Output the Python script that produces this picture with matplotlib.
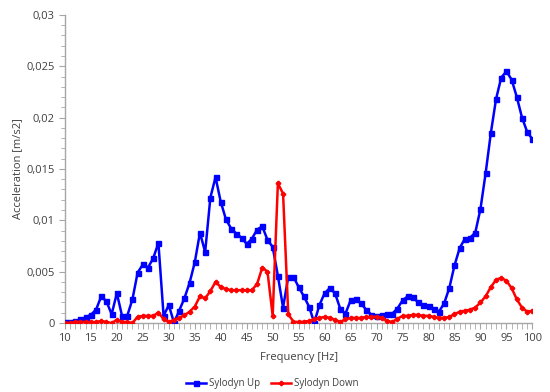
import matplotlib
matplotlib.use("Agg")
import matplotlib.pyplot as plt
from matplotlib.ticker import MultipleLocator, FuncFormatter

freq = list(range(10, 101))

sylodyn_up = [
    0.00013, 0.00013, 0.0002, 0.00035, 0.00055, 0.0008, 0.0013, 0.0026, 0.0021, 0.00085,  # 10-19
    0.0029, 0.0007, 0.0007, 0.0023, 0.0049, 0.0057, 0.0054, 0.0063, 0.0078, 0.0007,     # 20-29
    0.00175, 0.00003, 0.0012, 0.0024, 0.0039, 0.0059, 0.0088, 0.0069, 0.0122, 0.0142,   # 30-39
    0.0118, 0.0101, 0.0092, 0.0087, 0.0083, 0.0077, 0.0082, 0.0091, 0.0094, 0.0081,     # 40-49
    0.0074, 0.0046, 0.0015, 0.0045, 0.0045, 0.0035, 0.0026, 0.0016, 0.00003, 0.00175,   # 50-59
    0.0029, 0.0034, 0.0029, 0.0014, 0.0009, 0.0022, 0.0023, 0.0019, 0.0013, 0.0008,     # 60-69
    0.0007, 0.0008, 0.00085, 0.0009, 0.0014, 0.0022, 0.0026, 0.0025, 0.002, 0.00175,    # 70-79
    0.0017, 0.0014, 0.0011, 0.0019, 0.0034, 0.0056, 0.0073, 0.0082, 0.0083, 0.0088,     # 80-89
    0.0111, 0.0146, 0.0185, 0.0218, 0.0239, 0.0245, 0.0237, 0.022, 0.02, 0.0186,        # 90-99
    0.0179,                                                                               # 100
]

sylodyn_down = [
    0.0, 0.0, 0.0001, 0.0001, 0.0001, 0.0001, 0.0001, 0.0002, 0.0001, 0.0,              # 10-19
    0.0003, 0.0001, 0.0001, 0.0, 0.0006, 0.0007, 0.0007, 0.0007, 0.001, 0.0004,         # 20-29
    0.0001, 0.0003, 0.0005, 0.00075, 0.0011, 0.0016, 0.0026, 0.0024, 0.0031, 0.004,     # 30-39
    0.0035, 0.0033, 0.0032, 0.0032, 0.0032, 0.0032, 0.0032, 0.0038, 0.0054, 0.005,      # 40-49
    0.0007, 0.0136, 0.0126, 0.00085, 0.00013, 0.0001, 0.00013, 0.0002, 0.00035, 0.0005, # 50-59
    0.0006, 0.0005, 0.0003, 0.0001, 0.00035, 0.0005, 0.0005, 0.0005, 0.0006, 0.0006,    # 60-69
    0.0006, 0.0005, 0.0002, 0.0001, 0.0004, 0.0007, 0.0007, 0.0008, 0.0008, 0.0007,     # 70-79
    0.0007, 0.0006, 0.0005, 0.0005, 0.0006, 0.00085, 0.0011, 0.0012, 0.0013, 0.0015,    # 80-89
    0.002, 0.0026, 0.0035, 0.0042, 0.0044, 0.0041, 0.0034, 0.0023, 0.0015, 0.0011,      # 90-99
    0.0012,                                                                               # 100
]

TEXT_COLOR = "#404040"
AXIS_COLOR = "#a6a6a6"

plt.rcParams["font.family"] = ["Open Sans", "DejaVu Sans"]

fig = plt.figure(figsize=(5.5, 3.92), dpi=100)
ax = fig.add_axes([0.118, 0.176, 0.85, 0.786])

ax.plot(freq, sylodyn_up, color="#0000ff", linewidth=1.8, marker="s",
        markersize=3.6, label="Sylodyn Up", zorder=3)
ax.plot(freq, sylodyn_down, color="#ff0000", linewidth=1.8, marker="P",
        markersize=3, label="Sylodyn Down", zorder=4)

ax.set_xlim(10, 100)
ax.set_ylim(0, 0.03)
ax.xaxis.set_major_locator(MultipleLocator(5))
ax.xaxis.set_minor_locator(MultipleLocator(1))
ax.yaxis.set_major_locator(MultipleLocator(0.005))
ax.yaxis.set_minor_locator(MultipleLocator(0.001))

fmt = FuncFormatter(lambda v, pos: ("%g" % round(v, 4)).replace(".", ","))
ax.yaxis.set_major_formatter(fmt)

for side in ("top", "right"):
    ax.spines[side].set_visible(False)
for side in ("left", "bottom"):
    ax.spines[side].set_color(AXIS_COLOR)
    ax.spines[side].set_linewidth(1.0)

ax.tick_params(axis="both", which="both", color=AXIS_COLOR, direction="out",
               labelsize=8, labelcolor=TEXT_COLOR)
ax.tick_params(axis="x", which="major", length=4, pad=3)
ax.tick_params(axis="x", which="minor", length=4)
ax.tick_params(axis="y", which="major", length=4)
ax.tick_params(axis="y", which="minor", length=3)

ax.set_xlabel("Frequency [Hz]", fontsize=8, color=TEXT_COLOR, labelpad=6)
ax.set_ylabel("Acceleration [m/s2]", fontsize=8, color=TEXT_COLOR, labelpad=2)

fig.legend(loc="lower center", bbox_to_anchor=(0.495, -0.015), ncol=2, frameon=False,
           fontsize=7, labelcolor=TEXT_COLOR, handlelength=2, handletextpad=0.3,
           columnspacing=1.2)

fig.savefig("out.png", dpi=100)
